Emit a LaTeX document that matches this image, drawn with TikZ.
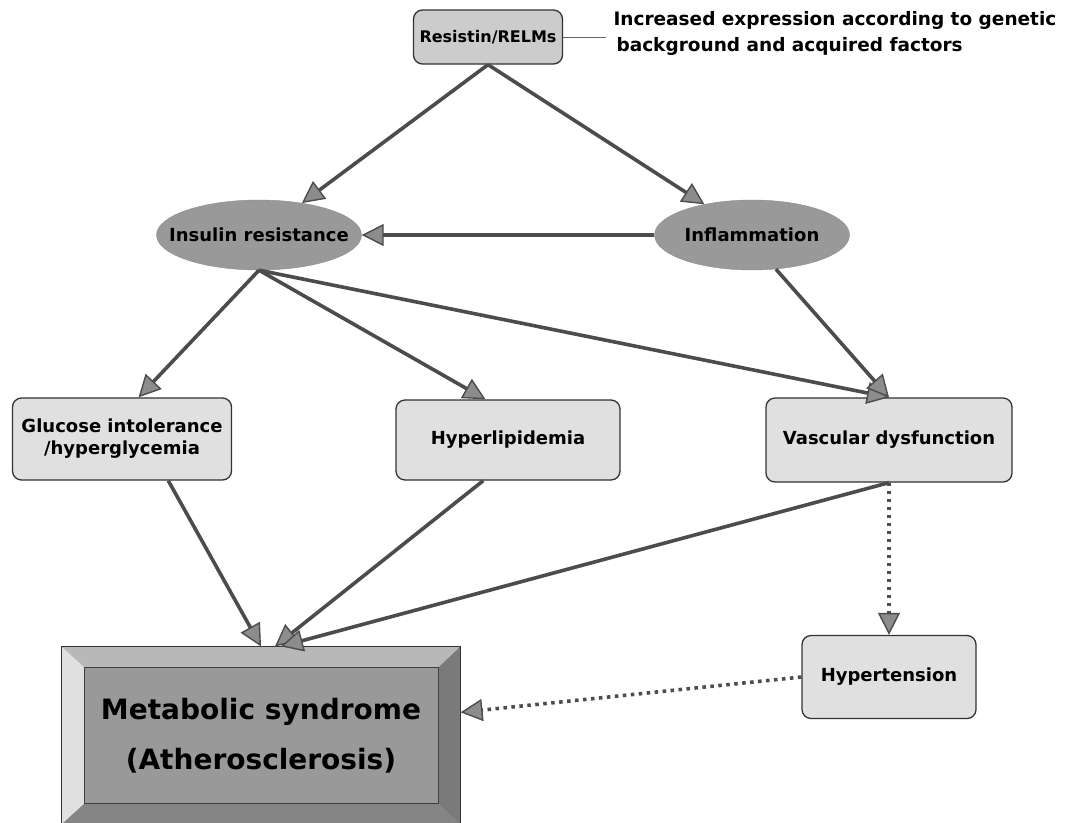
\documentclass[tikz,border=0pt]{standalone}
\usepackage{fontspec}
\setmainfont{DejaVu Sans}
\usepackage{tikz}
\usetikzlibrary{arrows.meta}
\usetikzlibrary{calc}
\usetikzlibrary{shapes.geometric}

\begin{document}
\begin{tikzpicture}[x=1pt,y=-1pt,
		boxnode/.style={draw=black!80,line width=1.3pt,rounded corners=9pt,fill=black!12,
			align=center,inner sep=0pt,font=\bfseries\fontsize{18}{22}\selectfont},
		ovalnode/.style={ellipse,draw=black!45,fill=black!40,inner sep=0pt,
			minimum height=70pt,font=\bfseries\fontsize{18}{22}\selectfont},
		link/.style={draw=black!70,line width=3.6pt,
			-{Triangle[length=22pt,width=22pt,fill=black!45,line width=1.4pt]}},
		dotlink/.style={link,dash pattern=on 3.5pt off 4.5pt}]
		
		\useasboundingbox (0,0) rectangle (1078,822);
		
		% Top box and its note
		\node[boxnode,fill=black!20,minimum width=149pt,minimum height=54pt,
		font=\bfseries\fontsize{16}{19}\selectfont] (res) at (488,37) {Resistin/RELMs};
		\node[anchor=west,align=left,font=\bfseries\fontsize{18.5}{26}\selectfont] (note) at (610,33)
		{Increased expression according to genetic\\\hspace{3pt}background and acquired factors};
		\draw[black!60,line width=1pt,shorten >=4pt] (res.east) -- (res.east -| note.west);
		
		% Ellipses
		\node[ovalnode,minimum width=205pt] (ins) at (259,235) {\makebox[0pt]{Insulin resistance}};
		\node[ovalnode,minimum width=195pt] (infl) at (752,235) {\makebox[0pt]{Inflammation}};
		
		% Middle row
		\node[boxnode,minimum width=219pt,minimum height=82pt] (glu) at (122,439)
		{Glucose intolerance\\/hyperglycemia};
		\node[boxnode,minimum width=224pt,minimum height=80pt] (hyp) at (508,440) {Hyperlipidemia};
		\node[boxnode,minimum width=246pt,minimum height=84pt] (vas) at (889,440) {Vascular dysfunction};
		\node[boxnode,minimum width=174pt,minimum height=83pt] (hyt) at (889,677) {Hypertension};
		
		% Metabolic syndrome (bevelled box)
		\node[draw=black!80,line width=1.2pt,fill=black!40,minimum width=398pt,minimum height=177pt,
		inner sep=0pt,align=center,font=\bfseries\fontsize{28}{50}\selectfont] (met) at (261,735.5)
		{Metabolic syndrome\\(Atherosclerosis)};
		\coordinate (inNW) at ($(met.north west)+(23,21)$);
		\coordinate (inSE) at ($(met.south east)+(-22,-21)$);
		\fill[black!28] (met.north west) -- (met.north east) -- (inSE |- inNW) -- (inNW) -- cycle;
		\fill[black!12] (met.north west) -- (inNW) -- (inNW |- inSE) -- (met.south west) -- cycle;
		\fill[black!52] (met.north east) -- (inSE |- inNW) -- (inSE) -- (met.south east) -- cycle;
		\fill[black!48] (met.south west) -- (inNW |- inSE) -- (inSE) -- (met.south east) -- cycle;
		\draw[black!75,line width=1pt] (inNW) rectangle (inSE);
		\draw[black!80,line width=1.2pt] (met.north west) rectangle (met.south east);
		
		% Arrows
		\draw[link] (res.south) -- (ins);
		\draw[link] (res.south) -- (infl);
		\draw[link] (infl) -- (ins);
		\draw[link] (ins.south) -- ($(glu.north)!0.15!(glu.north east)$);
		\draw[link] (ins.south) -- ($(hyp.north)!0.2!(hyp.north west)$);
		\draw[link] (ins.south) -- (vas.north);
		\draw[link] (infl.-55) -- (vas.north);
		\draw[link] ($(glu.south)!0.42!(glu.south east)$) -- (met.north);
		\draw[link] ($(hyp.south)!0.22!(hyp.south west)$) -- ($(met.north)!0.07!(met.north east)$);
		\draw[link] (vas.south) -- ($(met.north)!0.1!(met.north east)$);
		
		% Dotted arrows
		\draw[dotlink] (vas.south) -- (hyt.north);
		\draw[dotlink] (hyt.west) -- ($(met.north east)!0.37!(met.south east)$);
		
	\end{tikzpicture}
\end{document}
